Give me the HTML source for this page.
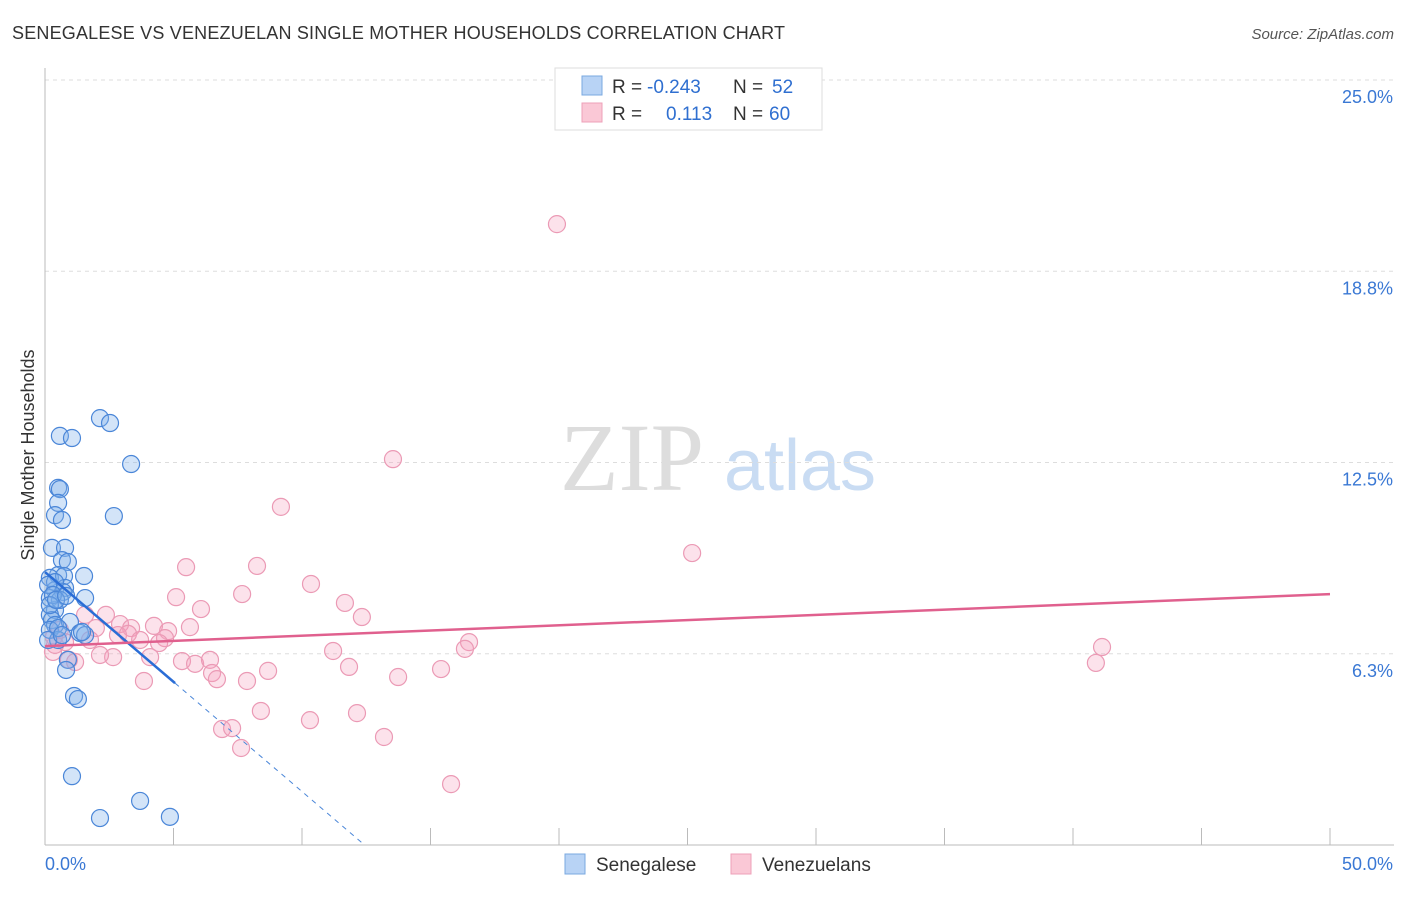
<!DOCTYPE html>
<html><head><meta charset="utf-8"><style>
body{margin:0;background:#fff;font-family:"Liberation Sans",sans-serif}
</style></head><body>
<svg id="chart" width="1406" height="892" xmlns="http://www.w3.org/2000/svg" style="font-family:'Liberation Sans',sans-serif">
<text x="12" y="39" font-size="18" fill="#333" textLength="773">SENEGALESE VS VENEZUELAN SINGLE MOTHER HOUSEHOLDS CORRELATION CHART</text>
<text x="1394" y="39" font-size="15" fill="#555" text-anchor="end" font-style="italic">Source: ZipAtlas.com</text>
<g>
<text x="632" y="490" font-size="96" fill="#ddd" font-family="'Liberation Serif',serif" text-anchor="middle">ZIP</text>
<text x="800" y="490" font-size="72" fill="#c9dcf3" text-anchor="middle">atlas</text>
</g>
<g id="grid"></g>
<g id="axes"></g>
<g id="marks"></g>
<text transform="translate(34,455) rotate(-90)" font-size="18" fill="#333" text-anchor="middle">Single Mother Households</text>
<g>
<rect x="555" y="68" width="267" height="62" fill="#fff" stroke="#ddd"/>
<rect x="582" y="76" width="20" height="19" fill="#b8d3f5" stroke="#7aa8e0"/>
<rect x="582" y="103" width="20" height="19" fill="#fac8d6" stroke="#eea0b8"/>
<text x="612" y="93" font-size="19" fill="#333">R = <tspan fill="#2f6fd0" x="647">-0.243</tspan><tspan x="733">N = </tspan><tspan fill="#2f6fd0" x="772">52</tspan></text>
<text x="612" y="120" font-size="19" fill="#333">R = <tspan fill="#2f6fd0" x="666">0.113</tspan><tspan x="733">N = </tspan><tspan fill="#2f6fd0" x="769">60</tspan></text>
</g>
<g>
<rect x="565" y="854" width="20" height="20" fill="#b8d3f5" stroke="#7aa8e0"/>
<text x="596" y="871" font-size="19" fill="#333">Senegalese</text>
<rect x="731" y="854" width="20" height="20" fill="#fac8d6" stroke="#eea0b8"/>
<text x="762" y="871" font-size="19" fill="#333">Venezuelans</text>
</g>
</svg>
<script>
const yTicks=[25,18.75,12.5,6.25];
const yTickLabels=["25.0%","18.8%","12.5%","6.3%"];
const xTicks=[0,5,10,15,20,25,30,35,40,45,50];
const blueX=[2.14,2.53,0.58,1.05,3.35,0.51,0.58,0.51,0.39,0.66,2.68,0.27,0.78,0.66,0.89,0.51,0.19,0.74,1.52,0.39,0.78,0.70,1.56,0.19,0.39,0.19,0.27,0.39,0.97,0.19,1.36,1.56,0.51,0.89,0.82,1.13,1.28,1.05,3.70,2.14,4.86,0.39,0.12,0.58,0.31,0.19,0.51,1.44,0.12,0.66,0.43,0.82];
const blueY=[13.95,13.79,13.37,13.30,12.45,11.67,11.63,11.18,10.78,10.62,10.75,9.71,9.71,9.31,9.25,8.82,8.73,8.79,8.79,8.33,8.40,8.27,8.07,8.07,7.68,7.52,7.35,7.19,7.29,7.03,6.93,6.86,6.70,6.05,5.72,4.87,4.77,2.25,1.44,0.88,0.92,8.59,8.50,8.01,8.17,7.84,7.09,6.96,6.70,6.86,8.01,8.14];
const pinkX=[19.92,13.54,9.18,25.18,5.49,8.25,10.35,5.10,7.67,11.67,6.07,12.33,2.37,1.56,2.92,4.24,3.35,5.64,4.79,1.98,0.58,4.67,4.44,2.84,1.75,0.35,16.50,16.34,11.21,41.13,40.89,4.09,2.65,2.14,0.31,0.93,5.33,5.84,6.42,8.68,11.83,15.41,6.50,6.69,3.85,7.86,13.74,8.40,12.14,10.31,6.89,7.28,7.63,13.19,15.80,1.17,0.39,0.78,3.23,3.70];
const pinkY=[20.29,12.61,11.05,9.54,9.08,9.12,8.53,8.10,8.20,7.91,7.71,7.45,7.52,7.52,7.22,7.16,7.09,7.12,6.99,7.09,7.03,6.76,6.60,6.86,6.70,6.80,6.63,6.41,6.34,6.47,5.95,6.14,6.14,6.21,6.31,6.05,6.01,5.92,6.05,5.69,5.82,5.75,5.62,5.42,5.36,5.36,5.49,4.38,4.31,4.08,3.79,3.82,3.17,3.53,1.99,5.98,6.54,6.63,6.90,6.70];
const blueTrend=[8.92,5.29,5.06];
const pinkTrend=[6.50,8.20];
const NS="http://www.w3.org/2000/svg";
const X=v=>45+v/50*1285, Y=v=>845-v*30.6;
function mk(tag,attrs,parent){const e=document.createElementNS(NS,tag);for(const k in attrs)e.setAttribute(k,attrs[k]);parent.appendChild(e);return e;}
const grid=document.getElementById('grid'),axes=document.getElementById('axes'),marks=document.getElementById('marks');
yTicks.forEach((t,i)=>{
 const l=mk('line',{x1:45,x2:1394,y1:Y(t),y2:Y(t),stroke:'#ddd','stroke-dasharray':'4,4'},grid);
 
 
 const tx=mk('text',{x:1393,y:Y(t)+23,'font-size':18,fill:'#3a78d4','text-anchor':'end'},axes);
 tx.textContent=yTickLabels[i];
 
 
});
const ya=mk('line',{x1:45,x2:45,y1:68,y2:845,stroke:'#bbb'},axes);


const xa=mk('line',{x1:45,x2:1394,y1:845,y2:845,stroke:'#bbb'},axes);


xTicks.forEach(t=>{
 const l=mk('line',{x1:X(t),x2:X(t),y1:828,y2:845,stroke:'#bbb'},axes);
 
 
});
const xl0=mk('text',{x:45,y:870,'font-size':18,fill:'#3a78d4'},axes);xl0.textContent='0.0%';


const xl1=mk('text',{x:1393,y:870,'font-size':18,fill:'#3a78d4','text-anchor':'end'},axes);xl1.textContent='50.0%';


pinkX.forEach((v,i)=>{
 const c=mk('circle',{cx:X(v),cy:Y(pinkY[i]),r:8.5,fill:'rgba(244,160,188,0.3)',stroke:'#eb9ab5','stroke-width':1.2},marks);
 
 
});
blueX.forEach((v,i)=>{
 const c=mk('circle',{cx:X(v),cy:Y(blueY[i]),r:8.5,fill:'rgba(130,178,235,0.35)',stroke:'#4a86d8','stroke-width':1.2},marks);
 
 
});
const slope=(blueTrend[1]-blueTrend[0])/blueTrend[2];
const xz=-blueTrend[0]/slope;
const bd=mk('line',{x1:X(blueTrend[2]),y1:Y(blueTrend[1]),x2:X(xz),y2:Y(0),stroke:'#4a86d8','stroke-width':1,'stroke-dasharray':'5,5'},marks);


const bl=mk('line',{x1:X(0),y1:Y(blueTrend[0]),x2:X(blueTrend[2]),y2:Y(blueTrend[1]),stroke:'#2a6dd6','stroke-width':2.5},marks);


const pl=mk('line',{x1:X(0),y1:Y(pinkTrend[0]),x2:X(50),y2:Y(pinkTrend[1]),stroke:'#e0608e','stroke-width':2.5},marks);


</script>
</body></html>
